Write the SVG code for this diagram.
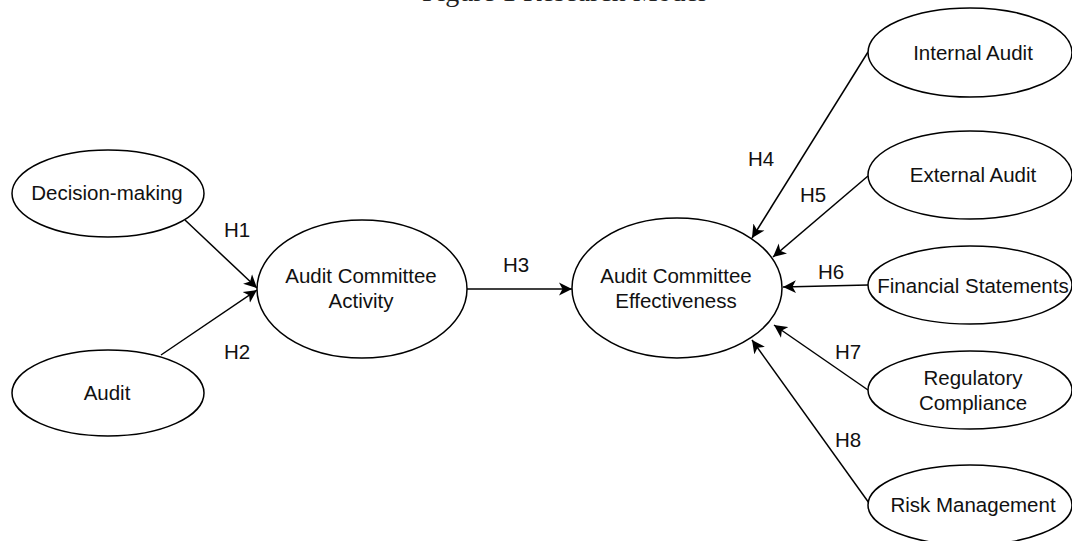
<svg xmlns="http://www.w3.org/2000/svg" width="1072" height="541" viewBox="0 0 1072 541">
<defs>
<style>
.node ellipse{fill:#fff;stroke:#000;stroke-width:1.5}
.node text,.lbl text{font-family:"Liberation Sans",Arial,sans-serif;font-size:20.5px;fill:#111;text-anchor:middle}
.lbl text{text-anchor:start}
.edges line{stroke:#000;stroke-width:1.5;fill:none;marker-end:url(#arr)}
.title{font-family:"Liberation Serif","Times New Roman",serif;font-size:28px;fill:#222}
</style>
<marker id="arr" markerUnits="userSpaceOnUse" markerWidth="14" markerHeight="14" viewBox="0 0 14 14" refX="13" refY="7" orient="auto">
<path d="M0,0.5 L13,7 L0,13.5 L3.5,7 Z" fill="#000"/>
</marker>
</defs>
<rect width="1072" height="541" fill="#fff"/>
<text class="title" x="422" y="1">Figure 1 Research Model</text>
<g class="edges" id="connectors">
<line x1="185" y1="220" x2="257" y2="288"/>
<line x1="161" y1="355" x2="257" y2="290"/>
<line x1="467" y1="289" x2="572" y2="289"/>
<line x1="868" y1="52" x2="752" y2="238"/>
<line x1="868" y1="176" x2="773" y2="257"/>
<line x1="868" y1="285" x2="783" y2="287"/>
<line x1="868" y1="390" x2="774" y2="325"/>
<line x1="869" y1="503" x2="752" y2="340"/>
</g>
<g class="lbl" id="labels">
<text x="224" y="237">H1</text>
<text x="224" y="359">H2</text>
<text x="503" y="272">H3</text>
<text x="748" y="166">H4</text>
<text x="800" y="202">H5</text>
<text x="818" y="279">H6</text>
<text x="835" y="359">H7</text>
<text x="835" y="447">H8</text>
</g>
<g class="node" id="decision-making"><ellipse cx="108" cy="193.5" rx="96" ry="43.5"/><text x="107" y="200">Decision-making</text></g>
<g class="node" id="audit"><ellipse cx="108" cy="393" rx="96" ry="43"/><text x="107" y="400">Audit</text></g>
<g class="node" id="aca"><ellipse cx="362" cy="289" rx="105" ry="69"/><text x="361" y="283">Audit Committee</text><text x="361" y="308">Activity</text></g>
<g class="node" id="ace"><ellipse cx="677" cy="288" rx="105" ry="70"/><text x="676" y="283">Audit Committee</text><text x="676" y="308">Effectiveness</text></g>
<g class="node" id="internal-audit"><ellipse cx="970" cy="52.5" rx="102" ry="44.5"/><text x="973" y="60">Internal Audit</text></g>
<g class="node" id="external-audit"><ellipse cx="970" cy="175" rx="102" ry="44"/><text x="973" y="182">External Audit</text></g>
<g class="node" id="financial-statements"><ellipse cx="970" cy="285" rx="102" ry="39"/><text x="973" y="293">Financial Statements</text></g>
<g class="node" id="regulatory-compliance"><ellipse cx="970" cy="390" rx="102" ry="39"/><text x="973" y="385">Regulatory</text><text x="973" y="410">Compliance</text></g>
<g class="node" id="risk-management"><ellipse cx="970" cy="505" rx="102" ry="40"/><text x="973" y="512">Risk Management</text></g>
</svg>
